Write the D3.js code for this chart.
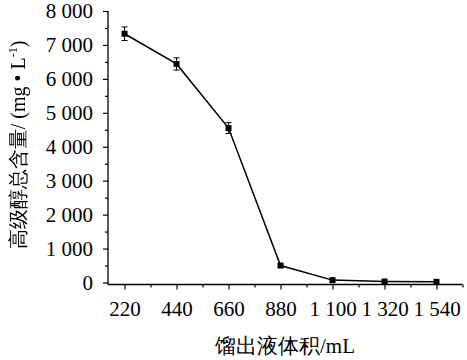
<!DOCTYPE html>
<html><head><meta charset="utf-8">
<script src="https://cdn.jsdelivr.net/npm/d3@7"></script>
<style>
html,body{margin:0;padding:0;background:#fff;}
svg{display:block;}
text{font-family:"Liberation Serif","Times New Roman",serif;fill:#000;}
</style></head>
<body><svg id="c" width="467" height="360"></svg>
<script>
const volumes = [220, 440, 660, 880, 1100, 1320, 1540];
const alcohol = [7330, 6440, 4550, 500, 70, 30, 20];
const errors = [200, 180, 160, 0, 0, 0, 0];
const xMajorTicks = [220, 440, 660, 880, 1100, 1320, 1540];
const xMinorTicks = [330, 550, 770, 990, 1210, 1430, 1650];
const yMajorTicks = [0, 1000, 2000, 3000, 4000, 5000, 6000, 7000, 8000];
const yMinorTicks = [500, 1500, 2500, 3500, 4500, 5500, 6500, 7500];
const xTitle = "馏出液体积/mL";

const svg = d3.select("#c");
const defs = svg.append("defs");
const flt = defs.append("filter").attr("id", "gray").attr("x", "-10%").attr("y", "-10%").attr("width", "120%").attr("height", "120%");
flt.append("feColorMatrix").attr("type", "saturate").attr("values", 0);

const x = d3.scaleLinear().domain([150, 1650]).range([108, 462.5]);
const y = d3.scaleLinear().domain([0, 8000]).range([282.5, 11]);
const axisY = 284.5;
const fmt = d => d3.format(",")(d).replace(/,/g, " ");

// spines
svg.append("line").attr("x1", x(150)).attr("x2", x(150)).attr("y1", y(8000)).attr("y2", axisY)
  .attr("stroke", "#000").attr("stroke-width", 1.3);
svg.append("line").attr("x1", x(150)).attr("x2", x(1650)).attr("y1", axisY).attr("y2", axisY)
  .attr("stroke", "#000").attr("stroke-width", 1.3);

// y ticks
const gy = svg.append("g").attr("transform", `translate(${x(150)},0)`)
  .call(d3.axisLeft(y).tickValues(yMajorTicks).tickSize(5).tickPadding(10).tickFormat(fmt));
gy.select(".domain").remove();
gy.selectAll(".tick line").attr("stroke-width", 1.2);
gy.selectAll("text").attr("font-size", 21).attr("font-family", "Liberation Serif");
const gy2 = svg.append("g").attr("transform", `translate(${x(150)},0)`)
  .call(d3.axisLeft(y).tickValues(yMinorTicks).tickSize(3).tickFormat(""));
gy2.select(".domain").remove();
gy2.selectAll(".tick line").attr("stroke-width", 1.2);

// x ticks
const gx = svg.append("g").attr("transform", `translate(0,${axisY})`)
  .call(d3.axisBottom(x).tickValues(xMajorTicks).tickSize(5).tickPadding(12).tickFormat(fmt));
gx.select(".domain").remove();
gx.selectAll(".tick line").attr("stroke-width", 1.2);
gx.selectAll("text").attr("font-size", 21).attr("font-family", "Liberation Serif");
const gx2 = svg.append("g").attr("transform", `translate(0,${axisY})`)
  .call(d3.axisBottom(x).tickValues(xMinorTicks).tickSize(3).tickFormat(""));
gx2.select(".domain").remove();
gx2.selectAll(".tick line").attr("stroke-width", 1.2);

// data
const data = volumes.map((v, i) => ({v, a: alcohol[i], e: errors[i]}));
svg.append("path").datum(data)
  .attr("d", d3.line().x(d => x(d.v)).y(d => y(d.a)))
  .attr("fill", "none").attr("stroke", "#000").attr("stroke-width", 1.5);

const eb = svg.append("g").attr("stroke", "#000").attr("stroke-width", 1);
data.filter(d => d.e > 0).forEach(d => {
  const cx = x(d.v);
  eb.append("line").attr("x1", cx).attr("x2", cx).attr("y1", y(d.a + d.e)).attr("y2", y(d.a - d.e));
  eb.append("line").attr("x1", cx - 3).attr("x2", cx + 3).attr("y1", y(d.a + d.e)).attr("y2", y(d.a + d.e));
  eb.append("line").attr("x1", cx - 3).attr("x2", cx + 3).attr("y1", y(d.a - d.e)).attr("y2", y(d.a - d.e));
});

svg.append("g").selectAll("rect").data(data).join("rect")
  .attr("x", d => x(d.v) - 3).attr("y", d => y(d.a) - 3)
  .attr("width", 6).attr("height", 6).attr("fill", "#000");

// titles
svg.append("text").attr("x", 285).attr("y", 353).attr("text-anchor", "middle")
  .attr("font-size", 21).attr("font-family", "'Liberation Serif','Noto Sans CJK SC',serif")
  .text(xTitle);

const yt = svg.append("g").attr("filter", "url(#gray)").append("text")
  .attr("transform", "translate(25,145) rotate(-90)")
  .attr("text-anchor", "middle").attr("font-size", 20).attr("fill", "#000")
  .attr("font-family", "'Liberation Serif','Noto Sans CJK SC',serif");
yt.append("tspan").text("高级醇总含量/ (mg • L");
yt.append("tspan").attr("font-size", 12).attr("dy", -8).text("-1");
yt.append("tspan").attr("dy", 8).text(")");
</script></body></html>
